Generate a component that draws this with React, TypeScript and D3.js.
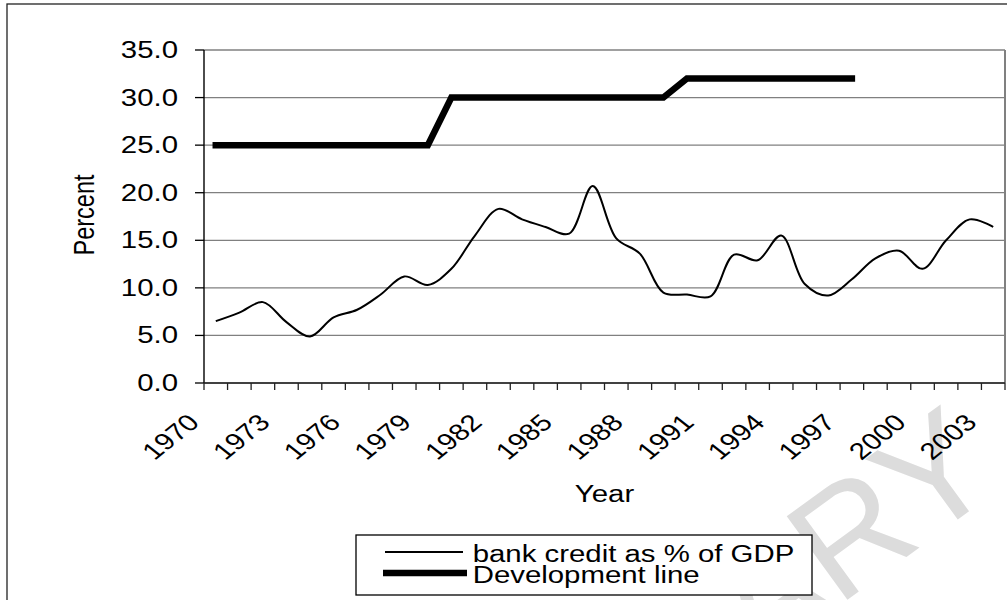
import React from "react";
import * as d3 from "d3";

// Years on the category axis
const years = [
  "1970", "1971", "1972", "1973", "1974", "1975", "1976", "1977", "1978", "1979",
  "1980", "1981", "1982", "1983", "1984", "1985", "1986", "1987", "1988", "1989",
  "1990", "1991", "1992", "1993", "1994", "1995", "1996", "1997", "1998", "1999",
  "2000", "2001", "2002", "2003",
];

// Bank credit as % of GDP, one value per year
const bankCredit = [
  6.5, 7.4, 8.5, 6.4, 4.9, 6.9, 7.7, 9.3, 11.2, 10.3,
  12.0, 15.5, 18.3, 17.2, 16.4, 15.7, 20.7, 15.2, 13.6, 9.5,
  9.3, 9.1, 13.5, 12.9, 15.5, 10.4, 9.2, 10.9, 13.1, 13.9,
  12.0, 15.0, 17.2, 16.4,
];

// Development line threshold, 1970-1997
const developmentLine = [
  25, 25, 25, 25, 25, 25, 25, 25, 25, 25,
  30, 30, 30, 30, 30, 30, 30, 30, 30, 30,
  32, 32, 32, 32, 32, 32, 32, 32,
];

const yTicks = [0, 5, 10, 15, 20, 25, 30, 35];
const xTickLabels = ["1970", "1973", "1976", "1979", "1982", "1985", "1988", "1991", "1994", "1997", "2000", "2003"];

const seriesNames = ["bank credit as % of GDP", "Development line"];

const FONT = "'Liberation Sans', Arial, Helvetica, sans-serif";
const FS = 23.5;
const SX = 1.25; // horizontal stretch of the lettering

export default function App() {
  const left = 204;
  const right = 1005;
  const top = 50;
  const bottom = 383;

  const x = d3.scaleBand<string>().domain(years).range([left, right]).padding(0);
  const y = d3.scaleLinear().domain([0, 35]).range([bottom, top]);
  const cx = (yr: string) => (x(yr) as number) + x.bandwidth() / 2;

  const creditPath = d3
    .line<number>()
    .x((_, i) => cx(years[i]))
    .y((d) => y(d))
    .curve(d3.curveCatmullRom.alpha(0.5))(bankCredit) as string;

  const devPath = d3
    .line<number>()
    .x((_, i) => cx(years[i]))
    .y((d) => y(d))(developmentLine) as string;

  const boundaries = [...years.map((yr) => x(yr) as number), right];

  return (
    <svg
      width={1007}
      height={600}
      style={{ position: "absolute", left: 0, top: 0, background: "#fff" }}
      fontFamily={FONT}
    >
      <rect x={0} y={0} width={1007} height={600} fill="#fff" />

      {/* watermark behind the chart */}
      <text
        transform="translate(1004,486) rotate(-36)"
        textAnchor="end"
        fontSize={150}
        fill="#dcdcdc"
      >
        LIBRARY
      </text>

      {/* chart frame */}
      <rect x={7} y={4} width={1020} height={620} fill="none" stroke="#222" strokeWidth={1.3} />

      {/* plot area */}
      <rect x={left} y={top} width={right - left} height={bottom - top} fill="#fff" />

      {/* horizontal gridlines */}
      {yTicks.map((t) => (
        <line key={"g" + t} x1={left} x2={right} y1={y(t)} y2={y(t)} stroke="#808080" strokeWidth={1.3} />
      ))}
      {/* plot area right edge */}
      <line x1={right} x2={right} y1={top} y2={bottom} stroke="#808080" strokeWidth={2} />

      {/* y axis */}
      <line x1={left} x2={left} y1={top} y2={bottom} stroke="#000" strokeWidth={1.4} />
      {yTicks.map((t) => (
        <g key={"yt" + t}>
          <line x1={left - 9} x2={left} y1={y(t)} y2={y(t)} stroke="#000" strokeWidth={1.3} />
          <text
            transform={`translate(${left - 26},${y(t)}) scale(${SX},1)`}
            textAnchor="end"
            dominantBaseline="central"
            fontSize={FS}
            fill="#000"
          >
            {t.toFixed(1)}
          </text>
        </g>
      ))}

      {/* x axis */}
      <line x1={left} x2={right} y1={bottom} y2={bottom} stroke="#222" strokeWidth={1.4} />
      {boundaries.map((b, i) => (
        <line key={"xt" + i} x1={b} x2={b} y1={bottom} y2={bottom + 7} stroke="#222" strokeWidth={1.3} />
      ))}
      {xTickLabels.map((lab) => (
        <text
          key={"xl" + lab}
          transform={`translate(${cx(lab) - 15},${bottom + 41}) scale(${SX},1) rotate(-45)`}
          textAnchor="end"
          fontSize={FS}
          fill="#000"
        >
          {lab}
        </text>
      ))}

      {/* axis titles */}
      <text
        transform={`translate(${(left + right) / 2},502) scale(${SX},1)`}
        textAnchor="middle"
        fontSize={FS}
        fill="#000"
      >
        Year
      </text>
      <text
        transform={`translate(84,215) scale(${SX},1) rotate(-90)`}
        textAnchor="middle"
        dominantBaseline="central"
        fontSize={FS}
        fill="#000"
      >
        Percent
      </text>

      {/* series */}
      <path d={devPath} fill="none" stroke="#000" strokeWidth={6.5} strokeLinecap="square" strokeLinejoin="miter" />
      <path d={creditPath} fill="none" stroke="#000" strokeWidth={2} strokeLinejoin="round" />

      {/* legend */}
      <g>
        <rect x={356} y={535} width={456} height={60} fill="#fff" stroke="#000" strokeWidth={1.3} />
        <line x1={385} x2={463} y1={552} y2={552} stroke="#000" strokeWidth={2} />
        <line x1={383} x2={467} y1={573} y2={573} stroke="#000" strokeWidth={6.5} />
        <text transform={`translate(472.7,561.5) scale(${SX},1)`} fontSize={FS} fill="#000">
          {seriesNames[0]}
        </text>
        <text transform={`translate(472.7,583) scale(${SX},1)`} fontSize={FS} fill="#000">
          {seriesNames[1]}
        </text>
      </g>
    </svg>
  );
}
